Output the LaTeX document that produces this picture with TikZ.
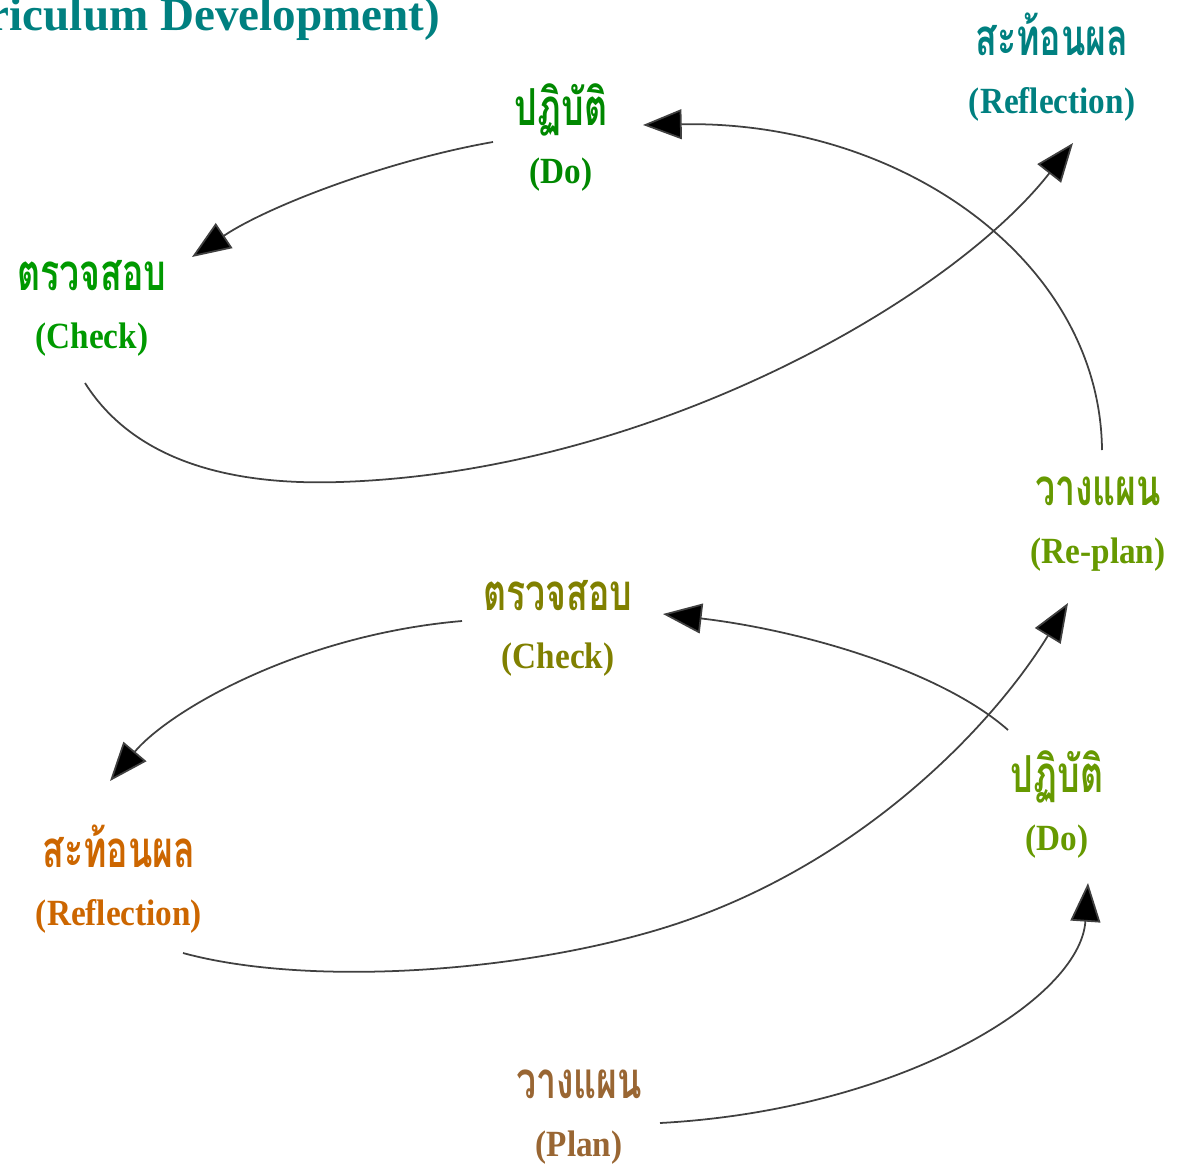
\documentclass[tikz,border=0pt]{standalone}
\usepackage{fontspec}
\setmainfont{Liberation Serif}
\newfontfamily\thaifont[Script=Thai,FakeStretch=0.7]{Loma}
\newfontfamily\latinfont[FakeStretch=0.9]{Liberation Serif}
\usetikzlibrary{arrows.meta}
\definecolor{reflTeal}{HTML}{008080}
\definecolor{doGreen}{HTML}{008800}
\definecolor{checkGreen}{HTML}{009900}
\definecolor{planGreen}{HTML}{669900}
\definecolor{checkOlive}{HTML}{808000}
\definecolor{reflOrange}{HTML}{CC6600}
\definecolor{planBrown}{HTML}{996633}
\newcommand{\stagetext}[2]{{\thaifont\fontsize{14.5}{17}\selectfont #1}\\[4pt]#2}
\begin{document}
\begin{tikzpicture}[x=0.01cm,y=-0.01cm]
    \tikzset{stage/.style = {align=center,inner sep=0pt,font=\latinfont\bfseries\fontsize{10.5}{12.5}\selectfont}}
    \tikzset{edge/.style = {draw=black!75,line width=0.5pt,-{Triangle[length=11pt,width=8.5pt,fill=black]}}}
    \useasboundingbox (0,0) rectangle (1180,1167);
    \node[anchor=base east,inner sep=0pt,text=reflTeal,font=\bfseries\fontsize{13.4}{15}\selectfont] (title) at (441,31) {(Curriculum Development)};
    \node[stage,text=doGreen] (doTop) at (561,138) {\stagetext{ปฏิบัติ}{(Do)}};
    \node[stage,text=checkGreen] (checkTop) at (92,308) {\stagetext{ตรวจสอบ}{(Check)}};
    \node[stage,text=reflTeal] (reflTop) at (1052,67) {\stagetext{สะท้อนผล}{(Reflection)}};
    \node[stage,text=planGreen] (replan) at (1098,524) {\stagetext{วางแผน}{(Re-plan)}};
    \node[stage,text=checkOlive] (checkBot) at (558,628) {\stagetext{ตรวจสอบ}{(Check)}};
    \node[stage,text=reflOrange] (reflBot) at (119,879) {\stagetext{สะท้อนผล}{(Reflection)}};
    \node[stage,text=planGreen] (doBot) at (1057,805) {\stagetext{ปฏิบัติ}{(Do)}};
    \node[stage,text=planBrown] (plan) at (579,1117) {\stagetext{วางแผน}{(Plan)}};
    \draw[edge] ([shift={(81,6)}]plan.center) .. controls (900,1110) and (1080,1000) .. ([shift={(31,78)}]doBot.center);
    \draw[edge] ([shift={(-49,-75)}]doBot.center) .. controls (940,670) and (800,630) .. ([shift={(105,-14)}]checkBot.center);
    \draw[edge] ([shift={(-96,-7)}]checkBot.center) .. controls (300,635) and (170,710) .. ([shift={(-9,-98)}]reflBot.center);
    \draw[edge] ([shift={(64,74)}]reflBot.center) .. controls (300,985) and (500,975) .. (650,932)
        .. controls (850,875) and (990,730) .. ([shift={(-30,79)}]replan.center);
    \draw[edge] ([shift={(4,-74)}]replan.center) .. controls (1100,260) and (900,120) .. ([shift={(82,-13)}]doTop.center);
    \draw[edge] ([shift={(-68,4)}]doTop.center) .. controls (390,160) and (270,205) .. ([shift={(100,-51)}]checkTop.center);
    \draw[edge] ([shift={(-7,75)}]checkTop.center) .. controls (140,470) and (250,485) .. (340,482)
        .. controls (650,472) and (950,300) .. ([shift={(21,76)}]reflTop.center);
\end{tikzpicture}
\end{document}
